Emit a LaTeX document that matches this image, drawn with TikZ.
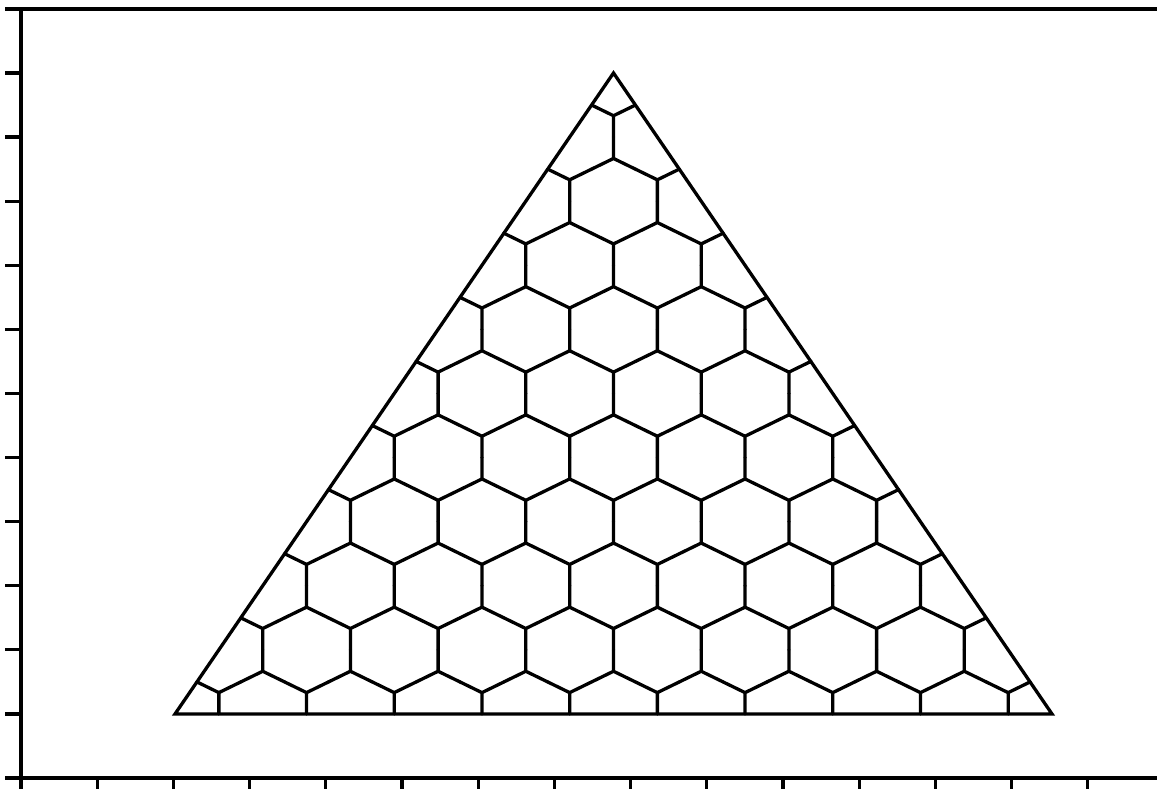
\documentclass[tikz,border=0pt]{standalone}
\begin{document}
\begin{tikzpicture}[x=1pt,y=1pt,line width=3.3pt]
\tikzset{frameline/.style={line width=3.3pt},hexline/.style={line width=3.3pt,line cap=round}}
\useasboundingbox (0,0) rectangle (1157,789);
% frame
\draw[frameline] (5,780) -- (1157,780);
\draw[frameline] (21,780) -- (21,11);
\draw[frameline] (5,11) -- (1157,11);
\foreach \k in {0,...,12} {
  \draw[frameline] (5,{780-64.08*\k}) -- (21,{780-64.08*\k});
}
\foreach \k in {0,...,14} {
  \draw[frameline] ({21+76.2*\k},11) -- ({21+76.2*\k},0);
}
% triangle with hexagonal cells
\begin{scope}[shift={(175,75)},x={(87.7pt,0pt)},y={(43.85pt,64.1pt)}]
\draw[hexline,line join=miter] (0,0) -- (10,0) -- (0,10) -- cycle;
\foreach \i in {0,...,9} {
  \pgfmathtruncatemacro\m{9-\i}
  \foreach \j in {0,...,\m} {
    \draw[hexline] (\i+1/3,\j+1/3) -- (\i+0.5,\j)
                   (\i+1/3,\j+1/3) -- (\i+0.5,\j+0.5)
                   (\i+1/3,\j+1/3) -- (\i,\j+0.5);
  }
}
\foreach \i in {0,...,8} {
  \pgfmathtruncatemacro\m{8-\i}
  \foreach \j in {0,...,\m} {
    \draw[hexline] (\i+2/3,\j+2/3) -- (\i+0.5,\j+0.5)
                   (\i+2/3,\j+2/3) -- (\i+1,\j+0.5)
                   (\i+2/3,\j+2/3) -- (\i+0.5,\j+1);
  }
}
\end{scope}
\end{tikzpicture}
\end{document}
